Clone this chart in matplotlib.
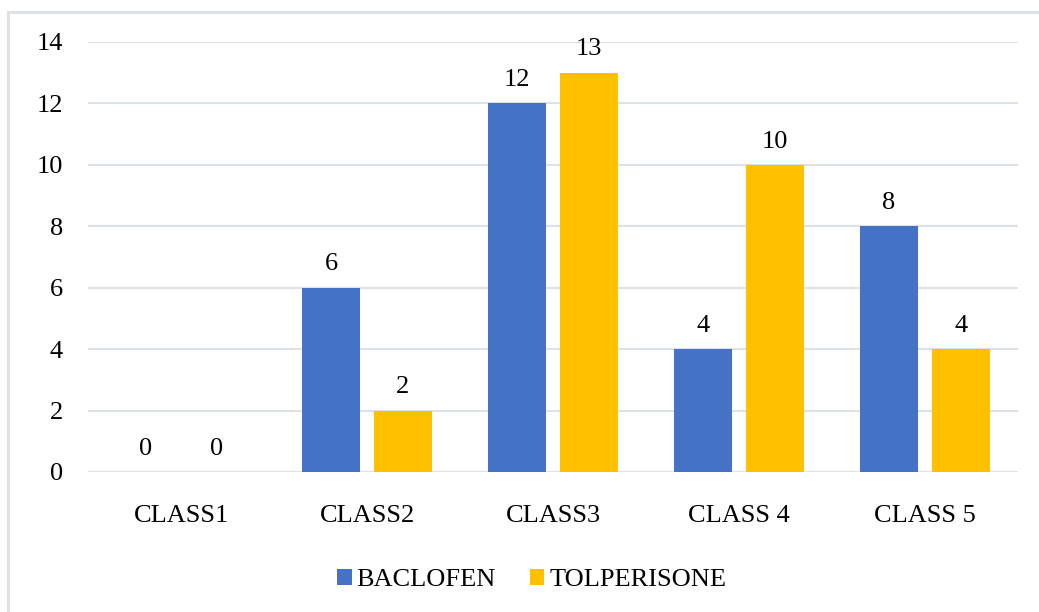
import numpy as np
import matplotlib.pyplot as plt
from matplotlib.patches import Rectangle

categories = ["CLASS1", "CLASS2", "CLASS3", "CLASS 4", "CLASS 5"]
baclofen = [0, 6, 12, 4, 8]
tolperisone = [0, 2, 13, 10, 4]

plt.rcParams['font.family'] = ['Liberation Serif', 'DejaVu Serif']

fig = plt.figure(figsize=(10.39, 6.12), dpi=100)
ax = fig.add_axes([0.0847, 0.2288, 0.8951, 0.7026])

# chart frame (light border)
fig.patches.append(Rectangle((8 / 1039, -0.1), 1.2, 1 - 12 / 612 + 0.1,
                             transform=fig.transFigure, fill=False,
                             edgecolor='#DDE1E8', linewidth=2.2))

x = np.arange(len(categories))
w = 0.31
off = 0.193
b1 = ax.bar(x - off, baclofen, w, color='#4472C4', label='BACLOFEN', zorder=3)
b2 = ax.bar(x + off, tolperisone, w, color='#FFC000', label='TOLPERISONE', zorder=3)

for bars, vals in ((b1, baclofen), (b2, tolperisone)):
    for r, v in zip(bars, vals):
        ax.text(r.get_x() + r.get_width() / 2, v + 0.4, str(v),
                ha='center', va='bottom', fontsize=19)

ax.set_xlim(-0.5, len(categories) - 0.5)
ax.set_ylim(0, 14)
ax.set_yticks(range(0, 15, 2))
ax.set_xticks(x)
ax.set_xticklabels(categories)
ax.tick_params(axis='both', length=0, labelsize=19)
ax.tick_params(axis='y', pad=18)
ax.tick_params(axis='x', pad=24)
ax.grid(axis='y', color='#DDE1E8', linewidth=1.5, zorder=0)
for s in ax.spines.values():
    s.set_visible(False)

ax.legend(loc='center', bbox_to_anchor=(0.477, -0.251), ncol=2, frameon=False,
          fontsize=19, handlelength=0.55, handleheight=0.55, handletextpad=0.18,
          columnspacing=1.3)

fig.savefig('out.png', dpi=100)
